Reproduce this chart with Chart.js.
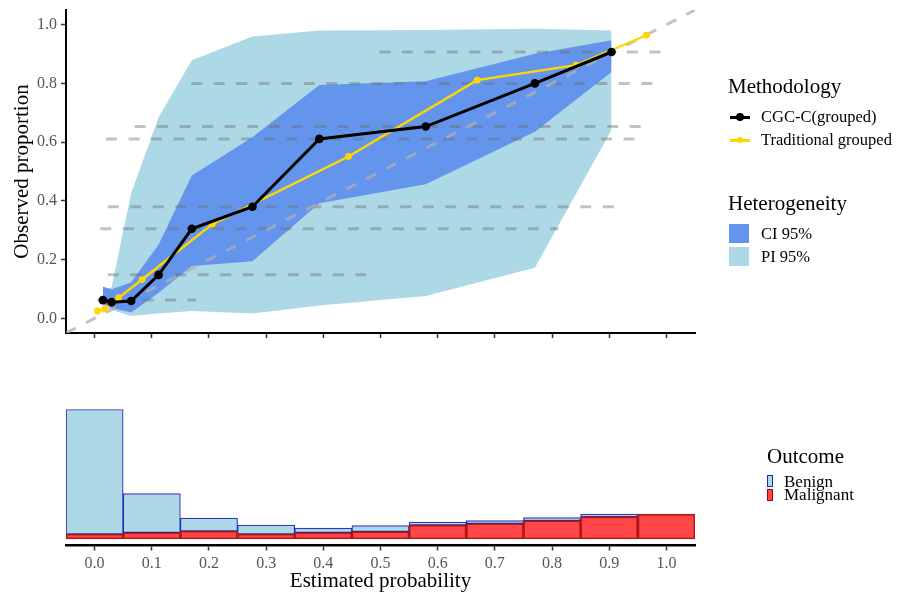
<!DOCTYPE html>
<html>
<head>
<meta charset="utf-8">
<script src="https://cdn.jsdelivr.net/npm/chart.js@4.4.1/dist/chart.umd.min.js"></script>
<style>
  html, body { margin: 0; padding: 0; background: #fff; }
  #wrap { position: relative; width: 899px; height: 601px; overflow: hidden;
          font-family: "Liberation Serif", "Times New Roman", serif; }
  #calib { position: absolute; left: 0; top: 0; }
  #hist { position: absolute; left: 0; top: 390px; }
  .txt { position: absolute; color: #000; white-space: nowrap; }
  .sw { position: absolute; box-sizing: border-box; }
</style>
</head>
<body>
<div id="wrap">
  <canvas id="calib" width="899" height="345"></canvas>
  <canvas id="hist" width="899" height="211"></canvas>
  <div id="legend"></div>
</div>
<script>
// ---- calibration curves ----
const cgcX  = [0.0145, 0.0297, 0.064, 0.112, 0.170, 0.276, 0.393, 0.579, 0.770, 0.904];
const cgcY  = [0.062, 0.055, 0.059, 0.148, 0.305, 0.380, 0.611, 0.653, 0.800, 0.907];
const tradX = [0.005, 0.0175, 0.042, 0.083, 0.206, 0.444, 0.669, 0.842, 0.965];
const tradY = [0.025, 0.031, 0.070, 0.132, 0.321, 0.551, 0.811, 0.862, 0.964];

// heterogeneity bands, evaluated at cgcX
const ciLow  = [0.050, 0.035, 0.020, 0.087, 0.178, 0.194, 0.392, 0.457, 0.635, 0.839];
const ciHigh = [0.108, 0.098, 0.123, 0.251, 0.486, 0.617, 0.795, 0.807, 0.901, 0.947];
const piLow  = [0.040, 0.028, 0.008, 0.016, 0.025, 0.016, 0.044, 0.076, 0.172, 0.641];
const piHigh = [0.100, 0.105, 0.427, 0.685, 0.879, 0.960, 0.980, 0.982, 0.986, 0.980];

// range of estimated probabilities within each group
const rangeY    = [0.062, 0.148, 0.305, 0.380, 0.611, 0.653, 0.800, 0.907];
const rangeFrom = [0.005, 0.023, 0.010, 0.023, 0.020, 0.070, 0.169, 0.498];
const rangeTo   = [0.177, 0.482, 0.811, 0.918, 0.953, 0.965, 0.985, 0.990];

// reference diagonal and axis ticks
const diagEnds = [-0.05, 1.05];
const calibXTicks = [0, 0.1, 0.2, 0.3, 0.4, 0.5, 0.6, 0.7, 0.8, 0.9, 1.0];
const calibYTicks = [0, 0.2, 0.4, 0.6, 0.8, 1.0];

// ---- distribution of estimated probabilities ----
const binLabels = ['0.0', '0.1', '0.2', '0.3', '0.4', '0.5', '0.6', '0.7', '0.8', '0.9', '1.0'];
const malignant = [10, 13, 16, 10, 13, 15, 28, 31, 37, 45, 50];
const benign    = [250, 78, 26, 18, 9, 12, 6, 6, 6, 5, 0];

const SERIF = '"Liberation Serif", "Times New Roman", serif';
const pts = (xs, ys) => xs.map((x, i) => ({ x: x, y: ys[i] }));

const rangeSets = rangeY.map((y, i) => ({
  label: 'range ' + i,
  data: [{ x: rangeFrom[i], y: y }, { x: rangeTo[i], y: y }],
  borderColor: 'rgba(110,110,110,0.42)',
  borderWidth: 3,
  borderDash: [11, 11.5],
  borderCapStyle: 'butt',
  pointRadius: 0,
  fill: false
}));

const axisGrid = { display: true, drawOnChartArea: false, drawTicks: true,
                   tickLength: 5, tickWidth: 1.5, tickColor: '#333' };

new Chart(document.getElementById('calib'), {
  type: 'line',
  data: {
    datasets: [
      { label: 'CGC-C(grouped)', data: pts(cgcX, cgcY), borderColor: '#000', backgroundColor: '#000',
        borderWidth: 3, pointRadius: 4.3, pointBorderWidth: 0, fill: false },
      { label: 'Traditional grouped', data: pts(tradX, tradY), borderColor: '#FFD700', backgroundColor: '#FFD700',
        borderWidth: 2.4, pointRadius: 3.4, pointBorderWidth: 0, fill: false },
      { label: 'diagonal', data: diagEnds.map(v => ({ x: v, y: v })), borderColor: 'rgba(175,175,175,0.75)',
        borderWidth: 3, borderDash: [11, 11.5], pointRadius: 0, fill: false },
      ...rangeSets,
      { label: 'CI 95%', data: pts(cgcX, ciHigh), borderWidth: 0, pointRadius: 0,
        fill: '+1', backgroundColor: '#6495ED' },
      { label: 'CI low', data: pts(cgcX, ciLow), borderWidth: 0, pointRadius: 0, fill: false },
      { label: 'PI 95%', data: pts(cgcX, piHigh), borderWidth: 0, pointRadius: 0,
        fill: '+1', backgroundColor: '#ADD8E6' },
      { label: 'PI low', data: pts(cgcX, piLow), borderWidth: 0, pointRadius: 0, fill: false }
    ]
  },
  options: {
    responsive: false,
    animation: false,
    events: [],
    layout: { padding: { left: 0, right: 204, top: 10, bottom: 0 } },
    plugins: { legend: { display: false }, tooltip: { enabled: false } },
    elements: { line: { tension: 0 } },
    scales: {
      x: {
        type: 'linear', min: -0.05, max: 1.05,
        afterBuildTicks: s => { s.ticks = calibXTicks.map(v => ({ value: v })); },
        afterFit: s => { s.height = 12; s.paddingLeft = 0; s.paddingRight = 0; },
        ticks: { display: false },
        grid: axisGrid,
        border: { display: true, color: '#000', width: 2 }
      },
      y: {
        type: 'linear', min: -0.05, max: 1.05,
        afterBuildTicks: s => { s.ticks = calibYTicks.map(v => ({ value: v })); },
        afterFit: s => { s.width = 66; s.paddingTop = 0; s.paddingBottom = 0; },
        ticks: { font: { family: SERIF, size: 16 }, color: '#555', padding: 4,
                 callback: v => Number(v).toFixed(1) },
        grid: axisGrid,
        border: { display: true, color: '#000', width: 2 },
        title: { display: true, text: 'Observed proportion', color: '#000',
                 font: { family: SERIF, size: 21 }, padding: { top: 10, bottom: 0 } }
      }
    }
  }
});

const maxTotal = Math.max(...malignant.map((m, i) => m + benign[i]));

new Chart(document.getElementById('hist'), {
  type: 'bar',
  data: {
    labels: binLabels,
    datasets: [
      { label: 'Malignant', data: malignant, backgroundColor: 'rgba(255,0,0,0.72)',
        borderColor: 'rgba(130,0,0,0.85)', borderWidth: 1.2, borderSkipped: false,
        barPercentage: 1, categoryPercentage: 1 },
      { label: 'Benign', data: benign, backgroundColor: '#ADD8E6',
        borderColor: 'rgba(0,0,170,0.8)', borderWidth: 1.2, borderSkipped: false,
        barPercentage: 1, categoryPercentage: 1 }
    ]
  },
  options: {
    responsive: false,
    animation: false,
    events: [],
    layout: { padding: { left: 66, right: 204, top: 13, bottom: 0 } },
    plugins: { legend: { display: false }, tooltip: { enabled: false } },
    scales: {
      x: {
        stacked: true, offset: true,
        afterFit: s => { s.height = 55.5; },
        grid: Object.assign({}, axisGrid, { offset: false }),
        border: { display: true, color: '#000', width: 2.5 },
        ticks: { font: { family: SERIF, size: 16 }, color: '#555', padding: 4, maxRotation: 0 },
        title: { display: true, text: 'Estimated probability', color: '#000',
                 font: { family: SERIF, size: 21 }, padding: { top: 0, bottom: 7 } }
      },
      y: { stacked: true, display: false, min: -0.05 * maxTotal, max: 1.05 * maxTotal }
    }
  }
});

// ---- legends ----
const legend = document.getElementById('legend');
function text(str, left, cy, size) {
  const d = document.createElement('div');
  d.className = 'txt';
  d.textContent = str;
  const lh = Math.round(size * 1.2);
  d.style.cssText = `left:${left}px;top:${cy - lh / 2}px;font-size:${size}px;line-height:${lh}px;`;
  legend.appendChild(d);
}
function box(left, top, w, h, css) {
  const d = document.createElement('div');
  d.className = 'sw';
  d.style.cssText = `left:${left}px;top:${top}px;width:${w}px;height:${h}px;${css}`;
  legend.appendChild(d);
}
function lineKey(cy, color, r) {
  box(730, cy - 1.5, 20, 3, `background:${color};`);
  box(740 - r, cy - r, 2 * r, 2 * r, `background:${color};border-radius:50%;`);
}

text('Methodology', 728, 86, 21);
lineKey(117, '#000', 4);
text('CGC-C(grouped)', 761, 117, 16.5);
lineKey(140, '#FFD700', 3.4);
text('Traditional grouped', 761, 140, 16.5);

text('Heterogeneity', 728, 203, 21);
box(729, 224, 20, 19, 'background:#6495ED;');
text('CI 95%', 761, 234, 16.5);
box(729, 247, 20, 19, 'background:#ADD8E6;');
text('PI 95%', 761, 257, 16.5);

text('Outcome', 767, 456, 21);
box(767, 475, 6, 12, 'background:#ADD8E6;border:1px solid rgba(0,0,170,0.8);');
text('Benign', 784, 482, 17);
box(767, 489, 6, 12, 'background:rgba(255,0,0,0.72);border:1px solid rgba(130,0,0,0.85);');
text('Malignant', 784, 495, 17);
</script>
</body>
</html>
